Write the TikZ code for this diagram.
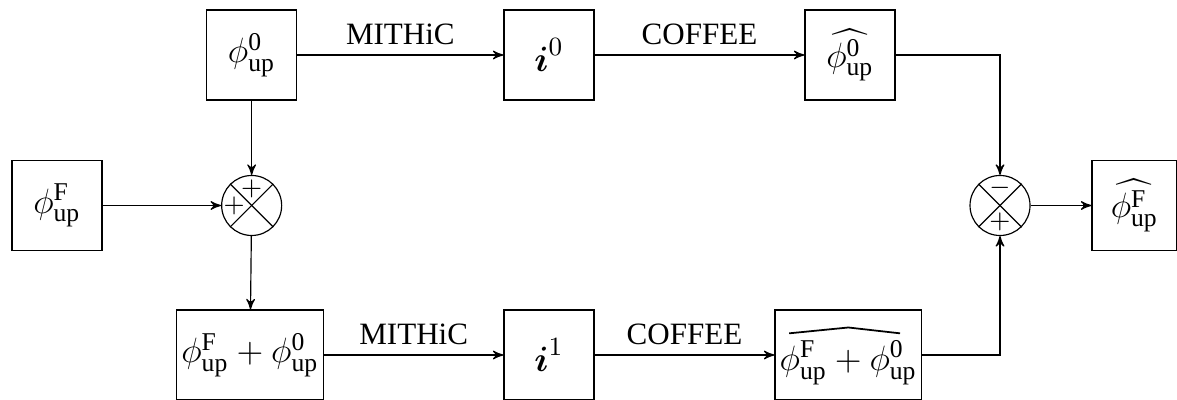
\documentclass[tikz,border=0pt]{standalone}
\usepackage{amsmath}
\usepackage{fontspec}
\setmainfont{Liberation Serif}
\usepackage{tikz}
\usetikzlibrary{arrows, positioning}
\usetikzlibrary{calc}

\tikzset{
	mathtxt/.style={font=\fontsize{12.5}{15}\selectfont},
	blockbox/.style={draw, minimum width=1.08cm, minimum height=1.08cm, inner sep=1pt, mathtxt},
	widebox/.style={blockbox, minimum width=1.76cm},
	sumnode/.style={draw, circle, minimum size=0.72cm, inner sep=0pt},
	signtxt/.style={inner sep=0pt, font=\small},
	lbl/.style={above, font=\fontsize{10.6}{12}\selectfont},
	>=stealth'
}
\newcommand{\phiup}[1]{\phi^{\mathrm{#1}}_{\mathrm{up}}}

\begin{document}
\begin{tikzpicture}
				\useasboundingbox (0,0) rectangle (14.124,4.8);
				% blocks
				\node[blockbox] (phiF) at (0.684,2.334) {$\phiup{F}$};
				\node[blockbox] (phiz) at (3.02,4.14) {$\phiup{0}$};
				\node[blockbox] (iz) at (6.588,4.14) {$\boldsymbol{i}^{0}$};
				\node[blockbox] (hatz) at (10.2,4.14) {$\widehat{\phiup{0}}$};
				\node[sumnode] (sumL) at (3.02,2.334) {};
				\node[sumnode] (sumR) at (12.0,2.334) {};
				\node[blockbox, minimum width=1.02cm] (hatF) at (13.614,2.334) {$\widehat{\phiup{F}}$};
				\node[widebox] (sumbox) at (3.0,0.54) {$\phiup{F}+\phiup{0}$};
				\node[blockbox] (ione) at (6.588,0.54) {$\boldsymbol{i}^{1}$};
				\node[widebox] (hatsum) at (10.18,0.54) {};
				\node[mathtxt, inner sep=0pt] (hatsumtxt) at ($(hatsum.center)+(0,-0.09)$) {$\phiup{F}+\phiup{0}$};
				% wide hat over the sum
				\draw[line width=0.6pt] ($(hatsumtxt.center)+(-0.71,0.35)$) -- ($(hatsumtxt.center)+(0,0.42)$) -- ($(hatsumtxt.center)+(0.62,0.35)$);
				% sums
				\draw (sumL.45) -- (sumL.225);
				\draw (sumL.135) -- (sumL.315);
				\draw (sumR.45) -- (sumR.225);
				\draw (sumR.135) -- (sumR.315);
				\node[signtxt] at ($(sumL.center)+(0,0.2)$) {$+$};
				\node[signtxt] at ($(sumL.center)+(-0.21,-0.01)$) {$+$};
				\node[signtxt] at ($(sumR.center)+(0,0.21)$) {$-$};
				\node[signtxt] at ($(sumR.center)+(0,-0.2)$) {$+$};
				% connectors
				\draw[->] (phiz) -- (sumL);
				\draw[->] (phiF) -- (sumL);
				\draw[->] (sumL) -- (sumbox);
				\draw[->] (phiz) -- node[lbl]{MITHiC} (iz);
				\draw[->] (iz) -- node[lbl]{COFFEE} (hatz);
				\draw[->] (hatz.east) -| (sumR.north);
				\draw[->] (sumbox) -- node[lbl]{MITHiC} (ione);
				\draw[->] (ione) -- node[lbl]{COFFEE} (hatsum);
				\draw[->] (hatsum.east) -| (sumR.south);
				\draw[->] (sumR) -- (hatF);
			\end{tikzpicture}
\end{document}
